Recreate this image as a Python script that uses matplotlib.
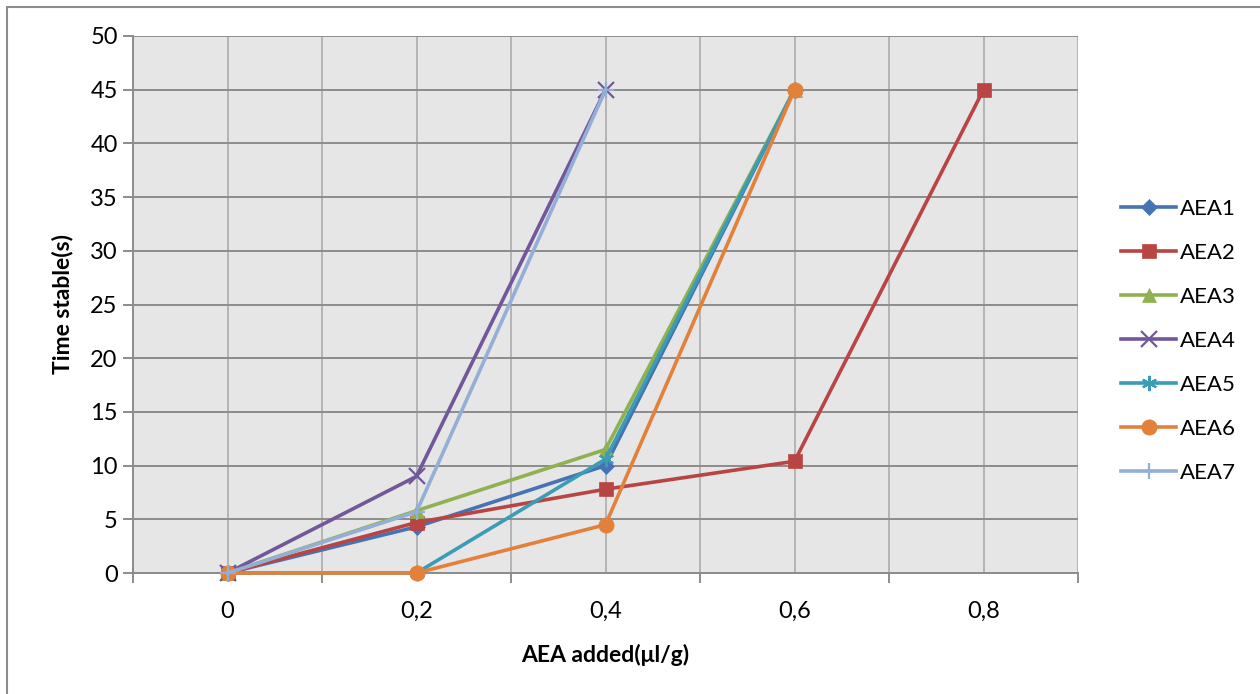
import matplotlib.pyplot as plt
from matplotlib.patches import Rectangle

# dose of AEA added (category axis) and stable time per batch
x_vals = [0.0, 0.2, 0.4, 0.6, 0.8]
x_labels = ['0', '0,2', '0,4', '0,6', '0,8']

aea1 = [0, 4.3, 10.0, 45]
aea2 = [0, 4.7, 7.8, 10.4, 45]
aea3 = [0, 5.8, 11.5, 45]
aea4 = [0, 9.0, 45]
aea5 = [0, 0, 10.6, 45]
aea6 = [0, 0, 4.5, 45]
aea7 = [0, 5.7, 45]

names = ['AEA1', 'AEA2', 'AEA3', 'AEA4', 'AEA5', 'AEA6', 'AEA7']
series = [aea1, aea2, aea3, aea4, aea5, aea6, aea7]
colors = ['#4573B4', '#B84543', '#8FB14F', '#72579B', '#3C9CB5', '#E3813A', '#93AFD6']
markers = ['D', 's', '^', 'x', (6, 2, 0), 'o', '+']
msizes = [8, 10, 10, 11, 11, 11, 12]

plt.rcParams['font.family'] = ['Lato', 'DejaVu Sans']

fig = plt.figure(figsize=(12.6, 6.94), dpi=100)
fig.patches.append(Rectangle((7 / 1260, -0.01), 1.1, 1 - 7 / 694 + 0.01,
                             transform=fig.transFigure, fill=False,
                             edgecolor='#8C8C8C', linewidth=1.5))

ax = fig.add_axes([133 / 1260, 1 - 573 / 694, 945 / 1260, 537 / 694])
ax.set_facecolor('#E6E6E6')

for name, ys, c, m, ms in zip(names, series, colors, markers, msizes):
    thin = m in ('x', '+') or isinstance(m, tuple)
    ax.plot(x_vals[:len(ys)], ys, color=c, linewidth=2.6, marker=m,
            markersize=ms, markeredgewidth=1.6 if thin else 0.5,
            markeredgecolor=c, label=name, clip_on=False, zorder=3)

ax.set_xlim(-0.1, 0.9)
ax.set_ylim(0, 50)
ax.set_yticks(range(0, 51, 5))
ax.set_xticks(x_vals)
ax.set_xticklabels(x_labels)
ax.set_xticks([-0.1, 0.1, 0.3, 0.5, 0.7, 0.9], minor=True)

ax.grid(axis='y', color='#8C8C8C', linewidth=1.4, zorder=0)
ax.grid(axis='x', which='both', color='#B4B4B4', linewidth=1.4, zorder=0)
ax.set_axisbelow(True)

for s in ['top', 'right']:
    ax.spines[s].set_visible(False)
for s in ['left', 'bottom']:
    ax.spines[s].set_color('#8C8C8C')
    ax.spines[s].set_linewidth(1.4)

ax.tick_params(axis='y', length=7, width=1.4, color='#8C8C8C', labelsize=17, pad=4)
ax.tick_params(axis='x', which='major', length=0, labelsize=17, pad=20)
ax.tick_params(axis='x', which='minor', length=7, width=1.4, color='#8C8C8C')

ax.set_ylabel('Time stable(s)', fontsize=16.5, fontweight='bold', labelpad=12)
ax.set_xlabel('AEA added(μl/g)', fontsize=16.5, fontweight='bold', labelpad=16)

fig.legend(loc='upper left', bbox_to_anchor=(1112 / 1260, 1 - 190 / 694),
           frameon=False, fontsize=16, handlelength=2.5, labelspacing=1.08,
           handletextpad=0.15, borderaxespad=0)

fig.savefig('out.png', dpi=100)
